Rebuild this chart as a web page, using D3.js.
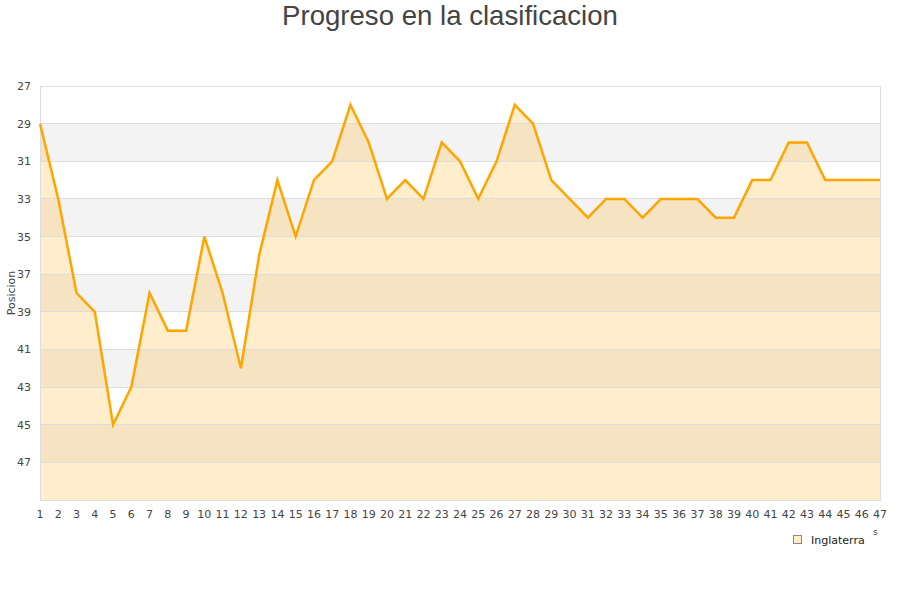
<!DOCTYPE html>
<html><head><meta charset="utf-8">
<script src="https://cdn.jsdelivr.net/npm/d3@7"></script>
<style>body{margin:0;background:#fff}svg{display:block}</style>
</head><body>
<svg id="c" width="900" height="600"></svg>
<script>
const jornadas = d3.range(1, 48);
const posiciones = [29,33,38,39,45,43,38,40,40,35,38,42,36,32,35,32,31,28,30,33,32,33,30,31,33,31,28,29,32,33,34,33,33,34,33,33,33,34,34,32,32,30,30,32,32,32,32];
const yTicks = [27,29,31,33,35,37,39,41,43,45,47];
const seriesName = "Inglaterra";
const title = "Progreso en la clasificacion";
const yLabel = "Posicion";

const svg = d3.select("#c");
const m = {l:40, r:880, t:86, b:500};
const x = d3.scaleLinear().domain([1,47]).range([m.l, m.r]);
const y = d3.scaleLinear().domain([27,49]).range([m.t, m.b]);

// alternating bands
const bands = d3.range(27, 49, 2);
svg.selectAll("rect.band").data(bands).enter().append("rect")
  .attr("x", m.l).attr("width", m.r - m.l)
  .attr("y", d => y(d)).attr("height", d => y(d+2) - y(d))
  .attr("fill", (d,i) => i % 2 ? "#f3f3f3" : "#ffffff");

// area
const data = jornadas.map((j,i) => ({j, p: posiciones[i]}));
svg.append("path").datum(data)
  .attr("d", d3.area().x(d => x(d.j)).y0(y(49)).y1(d => y(d.p)))
  .attr("fill", "rgba(255,165,0,0.2)");

// gridlines
svg.selectAll("line.grid").data(yTicks.slice(1)).enter().append("line")
  .attr("x1", m.l).attr("x2", m.r)
  .attr("y1", d => y(d)).attr("y2", d => y(d))
  .attr("stroke", "#dddddd").attr("stroke-width", 1).attr("shape-rendering","crispEdges");

// plot border
svg.append("rect").attr("x", m.l).attr("y", m.t).attr("width", m.r - m.l).attr("height", m.b - m.t)
  .attr("fill", "none").attr("stroke", "#dddddd").attr("shape-rendering","crispEdges");

// line
svg.append("path").datum(data)
  .attr("d", d3.line().x(d => x(d.j)).y(d => y(d.p)))
  .attr("fill", "none").attr("stroke", "#ffa500").attr("stroke-width", 2.5)
  .attr("stroke-linejoin", "miter");

// y ticks
svg.selectAll("text.yt").data(yTicks).enter().append("text")
  .attr("x", 31).attr("y", d => y(d) + 4)
  .attr("text-anchor", "end")
  .attr("font-family", "DejaVu Sans").attr("font-size", 11).attr("fill", "#444")
  .text(d => d);

// x ticks
svg.selectAll("text.xt").data(jornadas).enter().append("text")
  .attr("x", d => x(d)).attr("y", 518)
  .attr("text-anchor", "middle")
  .attr("font-family", "DejaVu Sans").attr("font-size", 11).attr("fill", "#444")
  .text(d => d);

// y label
svg.append("text").attr("transform", "translate(15,293) rotate(-90)")
  .attr("text-anchor", "middle")
  .attr("font-family", "DejaVu Sans").attr("font-size", 11).attr("fill", "#444")
  .text(yLabel);

// title
svg.append("text").attr("x", 450).attr("y", 25).attr("text-anchor", "middle")
  .attr("font-family", "Liberation Sans, Arial").attr("font-size", 27.6).attr("fill", "#444")
  .text(title);

// legend
svg.append("rect").attr("x", 793.5).attr("y", 535.5).attr("width", 8).attr("height", 8)
  .attr("fill", "#ffedcc").attr("stroke", "#888");
svg.append("text").attr("x", 811).attr("y", 544)
  .attr("font-family", "DejaVu Sans").attr("font-size", 11).attr("fill", "#222")
  .text(seriesName);
svg.append("text").attr("x", 873).attr("y", 535)
  .attr("font-family", "DejaVu Sans").attr("font-size", 9).attr("fill", "#444")
  .text("s");
</script>
</body></html>
